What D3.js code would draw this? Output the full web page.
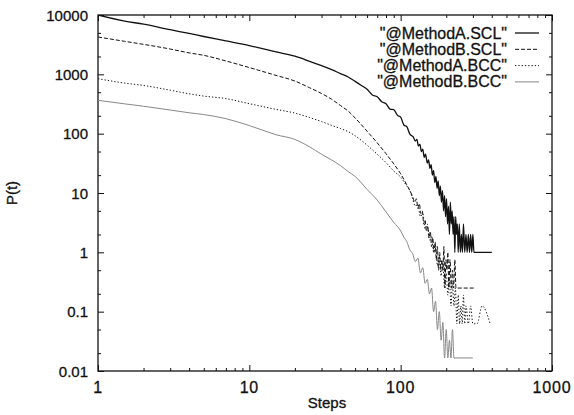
<!DOCTYPE html>
<html>
<head>
<meta charset="utf-8">
<script src="https://cdn.jsdelivr.net/npm/d3@7"></script>
<style>
  body { margin: 0; background: #fff; }
  text { font-family: "Liberation Sans", Arial, sans-serif; fill: #111; stroke: #111; stroke-width: 0.3px; }
</style>
</head>
<body>
<div id="chart"></div>
<script>
// series data (steps, P(t))
var stepsASCL = [1, 1.5, 2, 3, 4, 5, 7, 10, 15, 20, 25, 30, 35, 40, 45, 50, 55, 60, 65, 70, 75, 80, 85, 90, 95, 100, 105, 110, 115, 121, 125, 128, 131, 134, 137, 140, 143, 146, 150, 153, 156, 159, 162, 165, 168, 171, 174, 177, 180, 183, 186, 189, 192, 195, 198, 201, 204, 207, 210, 213, 216, 219, 222, 225, 228, 231, 234, 237, 240, 244, 248, 252, 256, 260, 265, 270, 275, 280, 285, 290, 295, 300, 305, 310, 400];
var valsASCL = [10000, 7900, 7000, 5650, 4880, 4340, 3660, 3050, 2390, 2020, 1660, 1400, 1200, 1030, 900, 760, 650, 560, 450, 420, 345, 320, 260, 255, 205, 190, 140, 130, 98, 88, 75, 80, 62, 66, 50, 55, 40, 45, 32, 36, 26, 30, 20, 24, 15, 19, 12, 16, 9, 13, 7, 11, 5, 9, 4, 8, 3, 6, 2, 7, 3, 5, 2, 4, 1, 4, 2, 3, 1, 3, 1, 2, 1, 3, 1, 2, 1, 2, 1, 2, 1, 2, 1, 1, 1];

var stepsBSCL = [1, 1.5, 2, 3, 4, 5, 7, 10, 15, 20, 25, 30, 35, 40, 45, 50, 60, 70, 80, 90, 100, 110, 120, 124, 127, 130, 133, 136, 139, 142, 145, 148, 151, 154, 157, 160, 163, 166, 169, 172, 175, 178, 181, 184, 187, 190, 193, 196, 199, 202, 205, 208, 212, 216, 220, 224, 228, 232, 236, 310];
var valsBSCL = [4260, 3600, 3200, 2670, 2300, 2090, 1680, 1300, 960, 770, 595, 475, 380, 298, 240, 184, 110, 70, 46, 31, 21, 13.6, 8.7, 7, 8, 5.5, 6.5, 4.5, 5, 3, 3.5, 2.25, 2.75, 1.75, 2.25, 1.25, 1.75, 1, 1.5, 0.75, 1.25, 0.5, 1, 0.5, 0.75, 0.5, 1.25, 0.25, 0.75, 0.5, 1, 0.25, 0.75, 0.25, 0.5, 0.25, 0.75, 0.25, 0.25, 0.25];

var stepsABCC = [1, 1.5, 2, 3, 4, 5, 7, 10, 15, 20, 25, 30, 35, 40, 45, 50, 60, 70, 80, 90, 100, 110, 115, 120, 125, 130, 135, 140, 145, 150, 155, 160, 165, 170, 175, 180, 185, 190, 195, 200, 205, 210, 215, 220, 225, 230, 235, 240, 245, 250, 255, 260, 265, 270, 280, 290, 300, 320, 345, 390];
var valsABCC = [844, 711, 650, 540, 470, 430, 390, 320, 257, 222, 187, 160, 138, 122, 108, 92, 64, 45, 32.5, 23.5, 18.5, 13, 11, 8, 6, 6.5, 4, 4.5, 2.5, 3, 1.6, 1.9, 1, 1.3, 0.6, 0.85, 0.4, 0.65, 0.25, 0.45, 0.19, 0.35, 0.125, 0.3, 0.125, 0.25, 0.0625, 0.19, 0.0625, 0.125, 0.0625, 0.19, 0.0625, 0.125, 0.0625, 0.125, 0.0625, 0.0625, 0.125, 0.0625];

var stepsBBCC = [1, 1.5, 2, 3, 4, 5, 7, 10, 15, 20, 25, 30, 35, 40, 45, 50, 60, 70, 80, 90, 100, 105, 110, 115, 120, 125, 130, 135, 140, 145, 150, 155, 160, 165, 170, 175, 180, 185, 190, 195, 200, 205, 210, 215, 220, 225, 300];
var valsBBCC = [365, 318, 290, 250, 225, 210, 179, 137, 96, 80, 60, 45, 36, 29, 23, 19, 11.5, 7.6, 4.8, 3.2, 2.3, 1.8, 1.5, 1.1, 0.95, 0.7, 0.8, 0.45, 0.55, 0.3, 0.35, 0.2, 0.25, 0.1, 0.15, 0.05, 0.1, 0.033, 0.066, 0.0166, 0.05, 0.0166, 0.033, 0.0166, 0.05, 0.0166, 0.0166];

var seriesNames = ['"@MethodA.SCL"', '"@MethodB.SCL"', '"@MethodA.BCC"', '"@MethodB.BCC"'];
var xTicks = [1, 10, 100, 1000];
var yTicks = [0.01, 0.1, 1, 10, 100, 1000, 10000];

var series = [
  { name: seriesNames[0], steps: stepsASCL, vals: valsASCL },
  { name: seriesNames[1], steps: stepsBSCL, vals: valsBSCL },
  { name: seriesNames[2], steps: stepsABCC, vals: valsABCC },
  { name: seriesNames[3], steps: stepsBBCC, vals: valsBBCC }
];
var styles = [
  { color: "#111", width: 1.3, dash: null },
  { color: "#111", width: 1, dash: "4,2" },
  { color: "#111", width: 1, dash: "1.3,2" },
  { color: "#888", width: 1, dash: null }
];

var margin = { top: 15, right: 22, bottom: 44, left: 98 },
    width = 574 - margin.left - margin.right,
    height = 415 - margin.top - margin.bottom;

var svg = d3.select("#chart")
    .append("svg")
    .attr("width", 574)
    .attr("height", 415)
    .append("g")
    .attr("transform", "translate(" + margin.left + "," + margin.top + ")");

var x = d3.scaleLog().domain([1, 1000]).range([0, width]);
var y = d3.scaleLog().domain([0.01, 10000]).range([height, 0]);

// minor ticks: x gets 2..9, y only 2 and 5
var xMinor = [], yMinor = [];
[1, 10, 100].forEach(function(d) {
  for (var k = 2; k <= 9; k++) xMinor.push(d * k);
});
[0.01, 0.1, 1, 10, 100, 1000].forEach(function(d) {
  yMinor.push(d * 2, d * 5);
});

// inward ticks on all four sides
function ticks(axis, values, size) {
  return axis.tickValues(values).tickSize(size).tickFormat("");
}
svg.append("g").attr("transform", "translate(0," + height + ")")
  .call(ticks(d3.axisTop(x), xTicks, 6));
svg.append("g").attr("transform", "translate(0," + height + ")")
  .call(ticks(d3.axisTop(x), xMinor, 3));
svg.append("g").call(ticks(d3.axisBottom(x), xTicks, 6));
svg.append("g").call(ticks(d3.axisBottom(x), xMinor, 3));
svg.append("g").call(ticks(d3.axisRight(y), yTicks, 6));
svg.append("g").call(ticks(d3.axisRight(y), yMinor, 3));
svg.append("g").attr("transform", "translate(" + width + ",0)")
  .call(ticks(d3.axisLeft(y), yTicks, 6));
svg.append("g").attr("transform", "translate(" + width + ",0)")
  .call(ticks(d3.axisLeft(y), yMinor, 3));
svg.selectAll(".domain").remove();
svg.selectAll(".tick line").attr("stroke", "#111").attr("stroke-width", 1);

svg.append("rect")
  .attr("width", width).attr("height", height)
  .attr("fill", "none").attr("stroke", "#111").attr("stroke-width", 1.3);

// tick labels
svg.selectAll(".xlab").data(xTicks).enter().append("text")
  .attr("x", function(d) { return x(d); })
  .attr("y", height + 22)
  .attr("text-anchor", "middle")
  .style("font-size", "16px")
  .style("letter-spacing", "0.8px")
  .text(function(d) { return d; });

svg.selectAll(".ylab").data(yTicks).enter().append("text")
  .attr("x", -10)
  .attr("y", function(d) { return y(d) + 5.5; })
  .attr("text-anchor", "end")
  .style("font-size", "15px")
  .text(function(d) { return d; });

svg.append("text")
  .attr("x", width / 2 + 2)
  .attr("y", height + 37)
  .attr("text-anchor", "middle")
  .style("font-size", "15px")
  .text("Steps");

svg.append("text")
  .attr("transform", "translate(-81," + (height / 2) + ") rotate(-90)")
  .attr("text-anchor", "middle")
  .style("font-size", "15px")
  .text("P(t)");

// lines
svg.append("clipPath").attr("id", "clip")
  .append("rect").attr("width", width).attr("height", height);

var line = d3.line()
  .curve(d3.curveMonotoneX)
  .x(function(d) { return x(d[0]); })
  .y(function(d) { return y(d[1]); });

series.forEach(function(s, i) {
  var pts = s.steps.map(function(t, j) { return [t, s.vals[j]]; });
  svg.append("path")
    .datum(pts)
    .attr("clip-path", "url(#clip)")
    .attr("d", line)
    .attr("fill", "none")
    .attr("stroke", styles[i].color)
    .attr("stroke-width", styles[i].width)
    .attr("stroke-dasharray", styles[i].dash);
});

// legend
var legend = svg.append("g").attr("transform", "translate(" + (width - 45) + ",18)");
series.forEach(function(s, i) {
  var g = legend.append("g").attr("transform", "translate(0," + (i * 16.3) + ")");
  g.append("text")
    .attr("x", 0).attr("y", 5.5)
    .attr("text-anchor", "end")
    .style("font-size", "16px")
    .text(s.name);
  g.append("line")
    .attr("x1", 8).attr("x2", 32)
    .attr("stroke", styles[i].color)
    .attr("stroke-width", styles[i].width)
    .attr("stroke-dasharray", styles[i].dash);
});
</script>
</body>
</html>
